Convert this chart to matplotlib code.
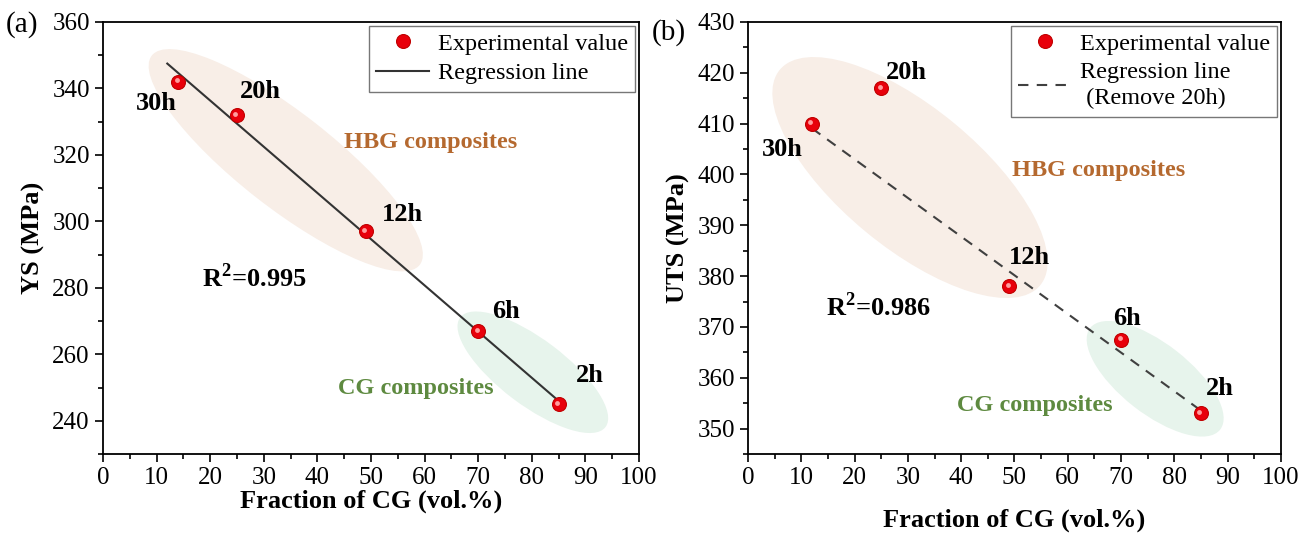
import numpy as np
import matplotlib
matplotlib.use("Agg")
import matplotlib.pyplot as plt
import matplotlib.transforms as mtransforms
from matplotlib.patches import Ellipse
from matplotlib.ticker import MultipleLocator

plt.rcParams['font.family'] = ['Liberation Serif', 'DejaVu Serif']
plt.rcParams['mathtext.fontset'] = 'custom'
plt.rcParams['mathtext.rm'] = 'Liberation Serif'
plt.rcParams['mathtext.bf'] = 'Liberation Serif:bold'

# data
cg_frac = [14, 25, 49, 70, 85]
ys = [342, 332, 297, 267, 245]
cg_frac_b = [12, 25, 49, 70, 85]
uts = [410, 417, 378, 367.5, 353]
hours = ["30h", "20h", "12h", "6h", "2h"]

# label positions (data coords) and alignment
ys_lbl = [(13.8, 335.5, 'right'), (25.6, 339, 'left'), (52, 302, 'left'),
          (72.6, 273, 'left'), (88.2, 253.5, 'left')]
uts_lbl = [(10.3, 405, 'right'), (25.9, 420, 'left'), (49, 383.7, 'left'),
           (68.5, 371.6, 'left'), (85.9, 357.8, 'left')]

HBG_COL = '#b5692f'
CG_COL = '#5e8a40'
HBG_FILL = '#f8eee7'
CG_FILL = '#e7f4ec'

fig = plt.figure(figsize=(13.15, 5.39), dpi=100)
ax1 = fig.add_axes([0.0783, 0.1577, 0.4076, 0.8015])
ax2 = fig.add_axes([0.5688, 0.1577, 0.4053, 0.8015])


def ellipse(ax, xc, yc, w, h, ang, col):
    # size in pixels, centre in data units
    tr = mtransforms.ScaledTranslation(xc, yc, ax.transData)
    e = Ellipse((0, 0), w, h, angle=-ang, facecolor=col, edgecolor='none',
                transform=tr, zorder=0)
    ax.add_patch(e)


def balls(ax, x, y):
    ax.plot(x, y, 'o', ms=10, color='#e8000b', mec='#c00000', mew=0.8,
            zorder=4, label='Experimental value')
    hl = mtransforms.offset_copy(ax.transData, fig=fig, x=-1.5, y=1.5, units='dots')
    ax.plot(x, y, 'o', ms=3.5, color='#ff9d9d', mec='none', zorder=5, transform=hl)


def style(ax, ylo, yhi, ymaj, ymin):
    ax.set_xlim(0, 100)
    ax.set_ylim(ylo, yhi)
    ax.xaxis.set_major_locator(MultipleLocator(10))
    ax.xaxis.set_minor_locator(MultipleLocator(5))
    ax.yaxis.set_major_locator(MultipleLocator(ymaj))
    ax.yaxis.set_minor_locator(MultipleLocator(ymin))
    ax.tick_params(which='both', direction='out', top=False, right=False,
                   labelsize=18, width=1.2)
    ax.tick_params(which='major', length=6)
    ax.tick_params(which='minor', length=3.5)
    for s in ax.spines.values():
        s.set_linewidth(1.3)


def legend(ax):
    leg = ax.legend(loc='upper right', fontsize=17.5, frameon=True, fancybox=False,
                    edgecolor='#555555', handlelength=2.2, handletextpad=0.35,
                    borderpad=0.3, labelspacing=0.3, borderaxespad=0.15)
    leg.get_frame().set_linewidth(1.0)
    for t in leg.get_texts():
        t.set_linespacing(1.3)
    return leg


# panel (a)
ellipse(ax1, 34.1, 318.4, 340, 95, 38, HBG_FILL)
ellipse(ax1, 80.2, 254.6, 182, 66, 37, CG_FILL)
k, b = np.polyfit(cg_frac, ys, 1)
xl = np.array([12, 85])
balls(ax1, cg_frac, ys)
ax1.plot(xl, k * xl + b, '-', color='#333333', lw=1.5, zorder=3, label='Regression line')
for (tx, ty, ha), t in zip(ys_lbl, hours):
    ax1.text(tx, ty, t, ha=ha, va='center', fontsize=19, fontweight='bold')
ax1.text(61.2, 323.6, 'HBG composites', color=HBG_COL, fontsize=17.5,
         fontweight='bold', ha='center', va='center')
ax1.text(58.4, 249.8, 'CG composites', color=CG_COL, fontsize=17.5,
         fontweight='bold', ha='center', va='center')
ax1.text(28.2, 283.2, r'R$^\mathbf{2}$=0.995', fontsize=19, fontweight='bold',
         ha='center', va='center')
style(ax1, 230, 360, 20, 10)
ax1.set_xlabel('Fraction of CG (vol.%)', fontsize=19, fontweight='bold', labelpad=0)
ax1.set_ylabel('YS (MPa)', fontsize=19, fontweight='bold', labelpad=5)
legend(ax1)

# panel (b), regression without the 20h point
ellipse(ax2, 30.4, 399.4, 338, 140, 39.6, HBG_FILL)
ellipse(ax2, 76.4, 359.8, 165, 70, 38, CG_FILL)
xb = [x for x, h in zip(cg_frac_b, hours) if h != "20h"]
yb = [y for y, h in zip(uts, hours) if h != "20h"]
k2, b2 = np.polyfit(xb, yb, 1)
balls(ax2, cg_frac_b, uts)
ax2.plot(xl, k2 * xl + b2, '--', color='#404040', lw=1.5, dashes=(5, 4), zorder=3,
         label='Regression line\n (Remove 20h)')
for (tx, ty, ha), t in zip(uts_lbl, hours):
    ax2.text(tx, ty, t, ha=ha, va='center', fontsize=19, fontweight='bold')
ax2.text(65.7, 400.8, 'HBG composites', color=HBG_COL, fontsize=17.5,
         fontweight='bold', ha='center', va='center')
ax2.text(53.8, 354.5, 'CG composites', color=CG_COL, fontsize=17.5,
         fontweight='bold', ha='center', va='center')
ax2.text(24.4, 374.1, r'R$^\mathbf{2}$=0.986', fontsize=19, fontweight='bold',
         ha='center', va='center')
style(ax2, 345, 430, 10, 5)
ax2.set_xlabel('Fraction of CG (vol.%)', fontsize=19, fontweight='bold', labelpad=14)
ax2.set_ylabel('UTS (MPa)', fontsize=19, fontweight='bold', labelpad=5)
legend(ax2)

fig.text(0.004, 0.955, '(a)', fontsize=21, va='center')
fig.text(0.496, 0.94, '(b)', fontsize=21, va='center')

fig.savefig('out.png', dpi=100)
